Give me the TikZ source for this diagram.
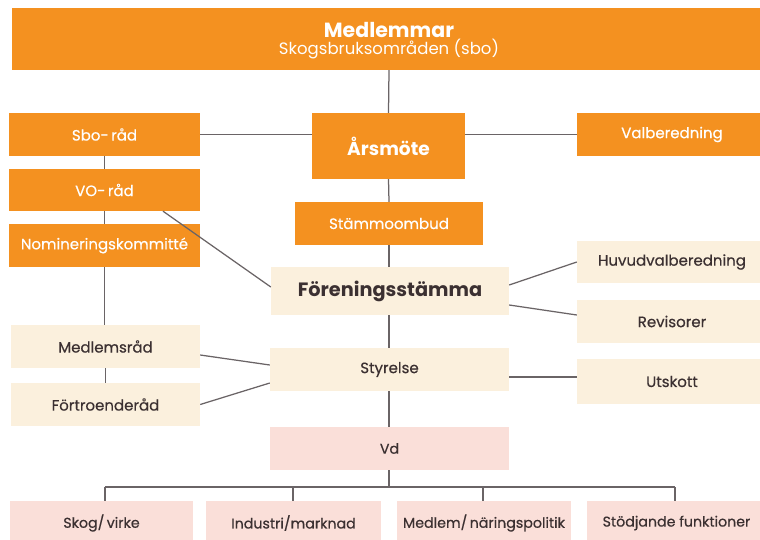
\documentclass[tikz,border=0pt]{standalone}
\usepackage{fontspec}
\setmainfont{Poppins}
\newfontfamily\midfont{Poppins}[FakeBold=0.5]
\usetikzlibrary{calc}
\definecolor{orng}{HTML}{F49120}
\definecolor{cream}{HTML}{FBF0DD}
\definecolor{pinkb}{HTML}{FADFD9}
\definecolor{txtd}{HTML}{3B3031}
\definecolor{linec}{HTML}{6A6466}
\tikzset{
  obox/.style={fill=orng, text=white, inner sep=0pt, font=\midfont\fontsize{15}{16}\selectfont},
  cbox/.style={fill=cream, text=txtd, inner sep=0pt, font=\midfont\fontsize{15}{16}\selectfont},
  pbox/.style={fill=pinkb, text=txtd, inner sep=0pt, font=\midfont\fontsize{14.2}{16}\selectfont},
  ttxt/.style={text=white, inner sep=0pt, anchor=base},
  conn/.style={draw=linec, line width=1.25pt},
}
\begin{document}
\begin{tikzpicture}[x=1pt,y=-1pt]
\useasboundingbox (0,0) rectangle (760,540);
% nodes
\node[obox, minimum width=754pt, minimum height=62pt] (top) at (389,39) {};
\node[ttxt, font=\fontsize{20.5}{21}\selectfont\bfseries] (medl) at (389,38) {Medlemmar};
\node[ttxt, font=\fontsize{16.5}{17}\selectfont] (sbot) at (389,54.5) {Skogsbruksområden (sbo)};
\node[obox, minimum width=191pt, minimum height=43pt] (sbo) at (104.5,134.5) {Sbo-\,råd};
\node[obox, minimum width=153pt, minimum height=66pt, font=\fontsize{18.6}{19}\selectfont\bfseries] (ars) at (388.5,146) {Årsmöte};
\node[obox, minimum width=190pt, minimum height=43pt] (valb) at (672,134.5) {Valberedning};
\node[obox, minimum width=191pt, minimum height=42pt] (vo) at (104.5,190) {VO-\,råd};
\node[obox, minimum width=191pt, minimum height=43pt] (nom) at (104.5,245.5) {Nomineringskommitté};
\node[obox, minimum width=188pt, minimum height=43pt] (stam) at (389,223.5) {Stämmoombud};
\node[cbox, minimum width=238pt, minimum height=48pt, font=\fontsize{19.3}{20}\selectfont\bfseries] (fore) at (390,291) {Föreningsstämma};
\node[cbox, minimum width=190pt, minimum height=42pt] (huv) at (672,262) {Huvudvalberedning};
\node[cbox, minimum width=190pt, minimum height=43pt] (rev) at (672,321.5) {Revisorer};
\node[cbox, minimum width=239pt, minimum height=43pt] (sty) at (389.5,369.5) {Styrelse};
\node[cbox, minimum width=190pt, minimum height=45pt] (uts) at (672,381.5) {Utskott};
\node[cbox, minimum width=189pt, minimum height=43pt] (medr) at (105.5,346.5) {Medlemsråd};
\node[cbox, minimum width=189pt, minimum height=43pt] (fort) at (105.5,404.5) {Förtroenderåd};
\node[pbox, minimum width=239pt, minimum height=43pt] (vd) at (389.5,448.5) {Vd};
\node[pbox, minimum width=183pt, minimum height=44pt] (skog) at (101.5,523) {Skog/\,virke};
\node[pbox, minimum width=175pt, minimum height=44pt] (ind) at (293.5,523) {Industri/marknad};
\node[pbox, minimum width=174pt, minimum height=44pt] (med) at (484,523) {Medlem/\,näringspolitik};
\node[pbox, minimum width=179pt, minimum height=44pt] (sto) at (676.5,523) {Stödjande funktioner};
% connectors
\draw[conn] (top.south) -- (ars.north);
\draw[conn] (sbo.east) -- (sbo.east -| ars.west);
\draw[conn] (valb.west) -- (valb.west -| ars.east);
\draw[conn] (sbo.south) -- (vo.north);
\draw[conn] (vo.south) -- (nom.north);
\draw[conn] (nom.south) -- (medr.north -| nom.south);
\draw[conn] (medr.south) -- (fort.north);
\draw[conn] (ars.south) -- (stam.north);
\draw[conn] (stam.south) -- (stam.south |- fore.north);
\draw[conn] ($(vo.south)+(58.5,0)$) -- ($(fore.west)+(0,-4)$);
\draw[conn] ($(fore.east)+(0,-6)$) -- (huv.west);
\draw[conn] ($(fore.east)+(0,14)$) -- ($(rev.west)+(0,-6.5)$);
\draw[conn] (fore.south -| stam.south) -- (sty.north -| stam.south);
\coordinate (u1) at ($(uts.west)+(0,-4.5)$);
\draw[conn] (u1) -- (u1 -| sty.east);
\draw[conn] ($(medr.east)+(0,8.5)$) -- ($(sty.west)+(0,-4.5)$);
\draw[conn] (fort.east) -- ($(sty.west)+(0,13.5)$);
\draw[conn] (sty.south -| stam.south) -- (vd.north -| stam.south);
\coordinate (b1) at (105,487);
\coordinate (b2) at (293,487);
\coordinate (b3) at (483,487);
\coordinate (b4) at (675,487);
\draw[conn] (vd.south -| stam.south) -- (b1 -| stam.south);
\draw[conn] (b1) -- (b4);
\draw[conn] (b1) -- (b1 |- skog.north);
\draw[conn] (b2) -- (b2 |- ind.north);
\draw[conn] (b3) -- (b3 |- med.north);
\draw[conn] (b4) -- (b4 |- sto.north);
\end{tikzpicture}
\end{document}
